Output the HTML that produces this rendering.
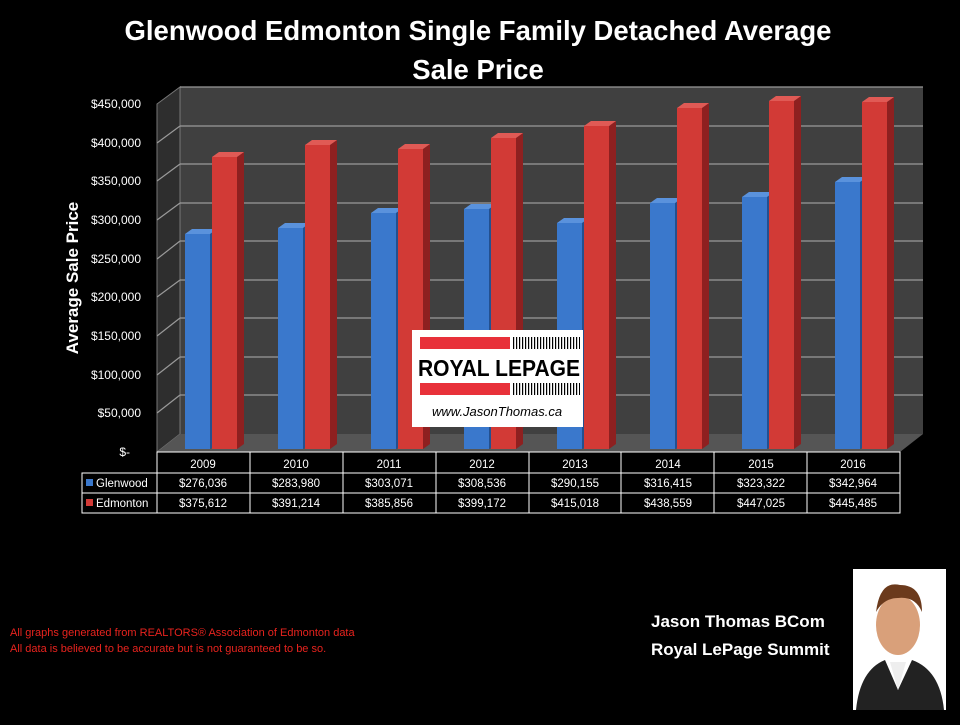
<!DOCTYPE html><html><head><style>body{margin:0;background:#000;width:960px;height:720px;overflow:hidden;font-family:"Liberation Sans",sans-serif}</style></head><body>
<svg width="960" height="720" xmlns="http://www.w3.org/2000/svg" font-family="Liberation Sans, sans-serif">
<rect width="960" height="720" fill="#000"/>
<text x="478" y="40" fill="#fff" font-size="27.5" font-weight="bold" text-anchor="middle">Glenwood Edmonton Single Family Detached Average</text>
<text x="478" y="79" fill="#fff" font-size="27.5" font-weight="bold" text-anchor="middle">Sale Price</text>
<polygon points="180,87 923,87 923,434 180,434" fill="#404040"/>
<polygon points="157,104 180,87 180,434 157,452" fill="#2e2e2e" stroke="#777" stroke-width="1"/>
<polygon points="157,452 180,434 923,434 900,452" fill="#555"/>
<g stroke="#9a9a9a" stroke-width="1.2">
<line x1="180" y1="126" x2="923" y2="126"/><line x1="180" y1="164" x2="923" y2="164"/><line x1="180" y1="203" x2="923" y2="203"/><line x1="180" y1="241" x2="923" y2="241"/><line x1="180" y1="280" x2="923" y2="280"/><line x1="180" y1="318" x2="923" y2="318"/><line x1="180" y1="357" x2="923" y2="357"/><line x1="180" y1="395" x2="923" y2="395"/>
<line x1="157" y1="143" x2="180" y2="126"/><line x1="157" y1="181" x2="180" y2="164"/><line x1="157" y1="220" x2="180" y2="203"/><line x1="157" y1="259" x2="180" y2="241"/><line x1="157" y1="297" x2="180" y2="280"/><line x1="157" y1="336" x2="180" y2="318"/><line x1="157" y1="375" x2="180" y2="357"/><line x1="157" y1="413" x2="180" y2="395"/>
<line x1="180" y1="87" x2="923" y2="87"/>
</g>
<g fill="#fff" font-size="12" text-anchor="end">
<text x="141" y="108">$450,000</text><text x="141" y="147">$400,000</text><text x="141" y="185">$350,000</text><text x="141" y="224">$300,000</text><text x="141" y="263">$250,000</text><text x="141" y="301">$200,000</text><text x="141" y="340">$150,000</text><text x="141" y="379">$100,000</text><text x="141" y="417">$50,000</text><text x="130" y="456">$-</text>
</g>
<text transform="translate(78,278) rotate(-90)" fill="#fff" font-size="17" font-weight="bold" text-anchor="middle">Average Sale Price</text>
<g fill="#23508f">
<polygon points="210,234 217,229 217,444 210,449"/><polygon points="303,228 310,223 310,444 303,449"/><polygon points="396,213 403,208 403,444 396,449"/><polygon points="489,209 496,204 496,444 489,449"/><polygon points="582,223 589,218 589,444 582,449"/><polygon points="675,203 682,198 682,444 675,449"/><polygon points="767,197 774,192 774,444 767,449"/><polygon points="860,182 867,177 867,444 860,449"/>
</g>
<g fill="#5a92dc">
<polygon points="185,234 192,229 217,229 210,234"/><polygon points="278,228 285,223 310,223 303,228"/><polygon points="371,213 378,208 403,208 396,213"/><polygon points="464,209 471,204 496,204 489,209"/><polygon points="557,223 564,218 589,218 582,223"/><polygon points="650,203 657,198 682,198 675,203"/><polygon points="742,197 749,192 774,192 767,197"/><polygon points="835,182 842,177 867,177 860,182"/>
</g>
<g fill="#3a78cc">
<rect x="185" y="234" width="25" height="215"/><rect x="278" y="228" width="25" height="221"/><rect x="371" y="213" width="25" height="236"/><rect x="464" y="209" width="25" height="240"/><rect x="557" y="223" width="25" height="226"/><rect x="650" y="203" width="25" height="246"/><rect x="742" y="197" width="25" height="252"/><rect x="835" y="182" width="25" height="267"/>
</g>
<g fill="#8e2020">
<polygon points="237,157 244,152 244,444 237,449"/><polygon points="330,145 337,140 337,444 330,449"/><polygon points="423,149 430,144 430,444 423,449"/><polygon points="516,138 523,133 523,444 516,449"/><polygon points="609,126 616,121 616,444 609,449"/><polygon points="702,108 709,103 709,444 702,449"/><polygon points="794,101 801,96 801,444 794,449"/><polygon points="887,102 894,97 894,444 887,449"/>
</g>
<g fill="#e05a55">
<polygon points="212,157 219,152 244,152 237,157"/><polygon points="305,145 312,140 337,140 330,145"/><polygon points="398,149 405,144 430,144 423,149"/><polygon points="491,138 498,133 523,133 516,138"/><polygon points="584,126 591,121 616,121 609,126"/><polygon points="677,108 684,103 709,103 702,108"/><polygon points="769,101 776,96 801,96 794,101"/><polygon points="862,102 869,97 894,97 887,102"/>
</g>
<g fill="#d23a36">
<rect x="212" y="157" width="25" height="292"/><rect x="305" y="145" width="25" height="304"/><rect x="398" y="149" width="25" height="300"/><rect x="491" y="138" width="25" height="311"/><rect x="584" y="126" width="25" height="323"/><rect x="677" y="108" width="25" height="341"/><rect x="769" y="101" width="25" height="348"/><rect x="862" y="102" width="25" height="347"/>
</g>
<rect x="412" y="330" width="171" height="97" fill="#fff"/>
<rect x="420" y="337" width="90" height="12" fill="#e8313a"/>
<rect x="420" y="383" width="90" height="12" fill="#e8313a"/>
<g stroke="#000" stroke-width="1" stroke-dasharray="1.2,1.8"><line x1="513" y1="343" x2="580" y2="343" stroke-width="12"/><line x1="513" y1="389" x2="580" y2="389" stroke-width="12"/></g>
<text x="418" y="376" font-size="23" font-weight="bold" fill="#000" textLength="162" lengthAdjust="spacingAndGlyphs">ROYAL LEPAGE</text>
<text x="432" y="416" font-size="13" font-style="italic" fill="#000">www.JasonThomas.ca</text>
<g stroke="#fff" stroke-width="1" fill="none">
<rect x="157" y="452" width="743" height="61"/><rect x="82" y="473" width="75" height="40"/>
<line x1="82" y1="493" x2="900" y2="493"/><line x1="157" y1="473" x2="900" y2="473"/>
<line x1="250" y1="452" x2="250" y2="513"/><line x1="343" y1="452" x2="343" y2="513"/><line x1="436" y1="452" x2="436" y2="513"/><line x1="529" y1="452" x2="529" y2="513"/><line x1="621" y1="452" x2="621" y2="513"/><line x1="714" y1="452" x2="714" y2="513"/><line x1="807" y1="452" x2="807" y2="513"/>
</g>
<rect x="86" y="479" width="7" height="7" fill="#3a78cc"/><rect x="86" y="499" width="7" height="7" fill="#d23a36"/>
<g fill="#fff" font-size="11.5">
<text x="96" y="487">Glenwood</text><text x="96" y="507">Edmonton</text>
<g text-anchor="middle">
<text x="203" y="468">2009</text><text x="296" y="468">2010</text><text x="389" y="468">2011</text><text x="482" y="468">2012</text><text x="575" y="468">2013</text><text x="668" y="468">2014</text><text x="761" y="468">2015</text><text x="853" y="468">2016</text>
<text x="203" y="487">$276,036</text><text x="296" y="487">$283,980</text><text x="389" y="487">$303,071</text><text x="482" y="487">$308,536</text><text x="575" y="487">$290,155</text><text x="668" y="487">$316,415</text><text x="761" y="487">$323,322</text><text x="853" y="487">$342,964</text>
<text x="203" y="507">$375,612</text><text x="296" y="507">$391,214</text><text x="389" y="507">$385,856</text><text x="482" y="507">$399,172</text><text x="575" y="507">$415,018</text><text x="668" y="507">$438,559</text><text x="761" y="507">$447,025</text><text x="853" y="507">$445,485</text>
</g></g>
<text x="10" y="636" fill="#e8231e" font-size="11">All graphs generated from REALTORS® Association of Edmonton data</text>
<text x="10" y="652" fill="#e8231e" font-size="11">All data is believed to be accurate but is not guaranteed to be so.</text>
<text x="651" y="627" fill="#fff" font-size="17" font-weight="bold">Jason Thomas BCom</text>
<text x="651" y="655" fill="#fff" font-size="17" font-weight="bold">Royal LePage Summit</text>
<rect x="853" y="569" width="93" height="141" fill="#fff"/>
<ellipse cx="898" cy="625" rx="22" ry="30" fill="#d9a07a"/>
<path d="M876,612 Q880,580 900,585 Q922,585 922,612 Q915,596 898,598 Q884,598 876,612Z" fill="#6b3a1c"/>
<path d="M856,710 Q860,670 885,660 L898,690 L912,660 Q940,670 944,710Z" fill="#222"/>
<path d="M890,662 L898,690 L906,662Z" fill="#eee"/>
</svg>
</body></html>
